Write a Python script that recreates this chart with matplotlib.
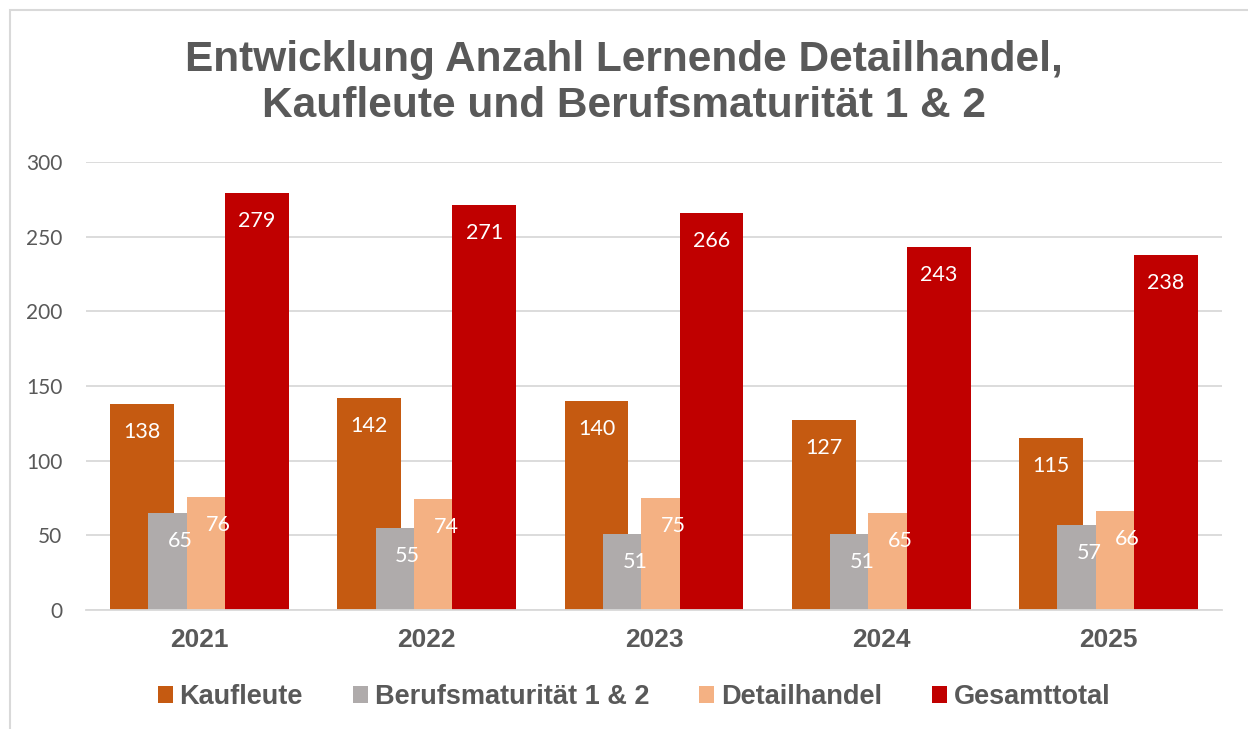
import numpy as np
import matplotlib.pyplot as plt
from matplotlib.patches import Rectangle, Patch

# data
jahre = ['2021', '2022', '2023', '2024', '2025']
kaufleute = [138, 142, 140, 127, 115]
berufsmaturitaet = [65, 55, 51, 51, 57]
detailhandel = [76, 74, 75, 65, 66]
gesamttotal = [279, 271, 266, 243, 238]

serien = ['Kaufleute', 'Berufsmaturität 1 & 2', 'Detailhandel', 'Gesamttotal']
farben = ['#C55A11', '#AFABAB', '#F4B183', '#C00000']
werte = [kaufleute, berufsmaturitaet, detailhandel, gesamttotal]

fig = plt.figure(figsize=(12.48, 7.29), dpi=100)
fig.patch.set_facecolor('white')

# thin chart border like in Excel
fig.patches.append(Rectangle((10/1248, -0.1), 1.2, (729-10)/729 + 0.1,
                             transform=fig.transFigure, fill=False,
                             edgecolor='#D9D9D9', linewidth=1.5))

ax = fig.add_axes([86/1248, 119/729, (1222-86)/1248, (610-162)/729])

x = np.arange(len(jahre))
breite = 0.2815
offsets = [-0.253, -0.0845, 0.0845, 0.253]

for vals, farbe, off, name in zip(werte, farben, offsets, serien):
    bars = ax.bar(x + off, vals, width=breite, color=farbe, label=name, zorder=2)
    for b, v in zip(bars, vals):
        ax.annotate(str(v), (b.get_x() + b.get_width()/2, v), xytext=(0, -28),
                    textcoords='offset pixels', ha='center', va='center',
                    color='white', fontsize=15.5, family='Lato', zorder=3)

ax.set_xlim(-0.5, 4.5)
ax.set_ylim(0, 300)
ax.set_yticks(range(0, 301, 50))
ax.set_xticks(x)
ax.set_xticklabels(jahre, fontsize=19, fontweight='bold', family='Liberation Sans', color='#595959')
ax.tick_params(axis='y', length=0, pad=17, labelsize=15, labelcolor='#595959')
for lab in ax.get_yticklabels():
    lab.set_family('Lato')
ax.tick_params(axis='x', length=0, pad=13)
ax.grid(axis='y', color='#D9D9D9', linewidth=1.3, zorder=0)
ax.set_axisbelow(True)
for s in ['top', 'right', 'left']:
    ax.spines[s].set_visible(False)
ax.spines['bottom'].set_color('#D9D9D9')
ax.spines['bottom'].set_linewidth(1.3)

fig.text(624/1248, 1 - 83/729,
         'Entwicklung Anzahl Lernende Detailhandel,\nKaufleute und Berufsmaturität 1 & 2',
         ha='center', va='center', fontsize=30.5, fontweight='bold',
         family='Liberation Sans', color='#595959', linespacing=1.17)

handles = [Patch(facecolor=f, label=n) for f, n in zip(farben, serien)]
fig.legend(handles=handles, loc='center', bbox_to_anchor=(634/1248, 1 - 697/729),
           ncol=4, frameon=False, handlelength=0.55, handleheight=0.55,
           handletextpad=0.25, columnspacing=1.85,
           prop={'family': 'Liberation Sans', 'weight': 'bold', 'size': 19.5})
for t in fig.legends[0].get_texts():
    t.set_color('#595959')

fig.savefig('out.png', dpi=100)
